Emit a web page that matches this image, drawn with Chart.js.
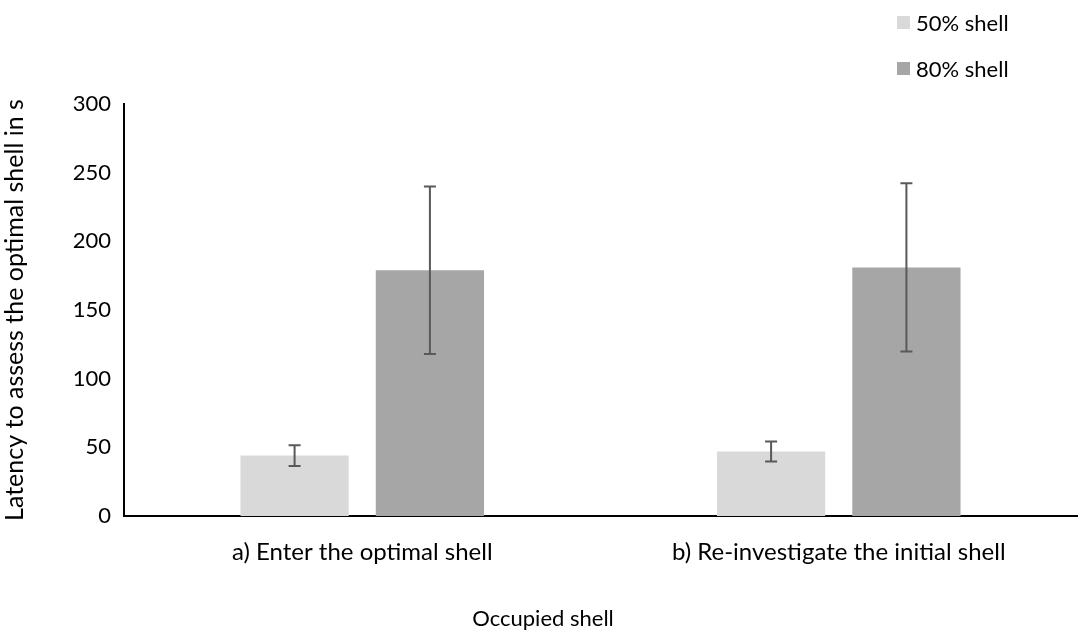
<!DOCTYPE html>
<html>
<head>
<meta charset="utf-8">
<script src="https://cdn.jsdelivr.net/npm/chart.js@4"></script>
<style>
  html, body { margin: 0; padding: 0; background: #fff; }
  #wrap { position: relative; width: 1079px; height: 635px; }
  #legend { position: absolute; left: 897px; top: 7px; font-family: Lato, sans-serif; font-size: 22px; color: #000; }
  #legend .item { display: flex; align-items: center; height: 30px; margin-bottom: 16px; }
  #legend .box { width: 13px; height: 13px; margin-right: 6px; }
</style>
</head>
<body>
<div id="wrap">
  <canvas id="chart" width="1079" height="635"></canvas>
  <div id="legend"></div>
</div>
<script>
const categories = ["a) Enter the optimal shell", "b) Re-investigate the initial shell"];
const seriesNames = ["50% shell", "80% shell"];
const shell50 = [44, 47];
const shell80 = [179, 181];
const err50 = [7.6, 7.3];
const err80 = [61, 61.3];
const yTicks = [0, 50, 100, 150, 200, 250, 300];
const colors = ["#d9d9d9", "#a6a6a6"];
const xTitle = "Occupied shell";
const yTitle = "Latency to assess the optimal shell in s";

const fontFamily = "Lato, sans-serif";

// draws +/- error bars on top of every bar
const errorBars = {
    id: "errorBars",
    afterDatasetsDraw(chart){
        const ctx = chart.ctx;
        const y = chart.scales.y;
        chart.data.datasets.forEach((ds, i) => {
            const meta = chart.getDatasetMeta(i);
            meta.data.forEach((bar, j) => {
                const v = ds.data[j];
                const e = ds.errors[j];
                const top = y.getPixelForValue(v + e);
                const bot = y.getPixelForValue(v - e);
                ctx.save();
                ctx.strokeStyle = "#595959";
                ctx.lineWidth = 2;
                ctx.beginPath();
                ctx.moveTo(bar.x, top); ctx.lineTo(bar.x, bot);
                ctx.moveTo(bar.x - 6, top); ctx.lineTo(bar.x + 6, top);
                ctx.moveTo(bar.x - 6, bot); ctx.lineTo(bar.x + 6, bot);
                ctx.stroke();
                ctx.restore();
            });
        });
    }
};

// x axis title sits a bit left of the plot centre in the original
const xAxisTitle = {
    id: "xAxisTitle",
    afterDraw(chart){
        const ctx = chart.ctx;
        ctx.save();
        ctx.font = `22px ${fontFamily}`;
        ctx.fillStyle = "#000";
        ctx.textAlign = "center";
        ctx.textBaseline = "middle";
        ctx.fillText(xTitle, 543, 619);
        ctx.restore();
    }
};

const chart = new Chart(document.getElementById("chart"), {
    type: "bar",
    data: {
        labels: categories,
        datasets: [
            { label: seriesNames[0], data: shell50, errors: err50, backgroundColor: colors[0] },
            { label: seriesNames[1], data: shell80, errors: err80, backgroundColor: colors[1] }
        ]
    },
    options: {
        responsive: false,
        animation: false,
        layout: { padding: { top: 104, right: 2, left: 0, bottom: 0 } },
        categoryPercentage: 0.568,
        barPercentage: 0.8,
        plugins: {
            legend: { display: false },
            tooltip: { enabled: false }
        },
        scales: {
            x: {
                grid: { display: false, drawTicks: false },
                border: { color: "#000", width: 2 },
                ticks: { font: { family: fontFamily, size: 24 }, color: "#000", padding: 22 },
                afterFit(scale){ scale.height = 119; }
            },
            y: {
                min: 0, max: 300,
                afterBuildTicks(scale){ scale.ticks = yTicks.map(v => ({ value: v })); },
                grid: { display: false, drawOnChartArea: false, drawTicks: true, tickLength: 8, tickColor: "#000", tickWidth: 2 },
                border: { color: "#000", width: 2 },
                ticks: { font: { family: fontFamily, size: 22 }, color: "#000", padding: 5 },
                title: { display: true, text: yTitle, font: { family: fontFamily, size: 25 }, color: "#000", padding: { top: 0, bottom: 0 } },
                afterFit(scale){ scale.width = 124; }
            }
        }
    },
    plugins: [errorBars, xAxisTitle]
});

const legend = document.getElementById("legend");
chart.data.datasets.forEach(ds => {
    const item = document.createElement("div");
    item.className = "item";
    item.innerHTML = `<span class="box" style="background:${ds.backgroundColor}"></span><span>${ds.label}</span>`;
    legend.append(item);
});
</script>
</body>
</html>
